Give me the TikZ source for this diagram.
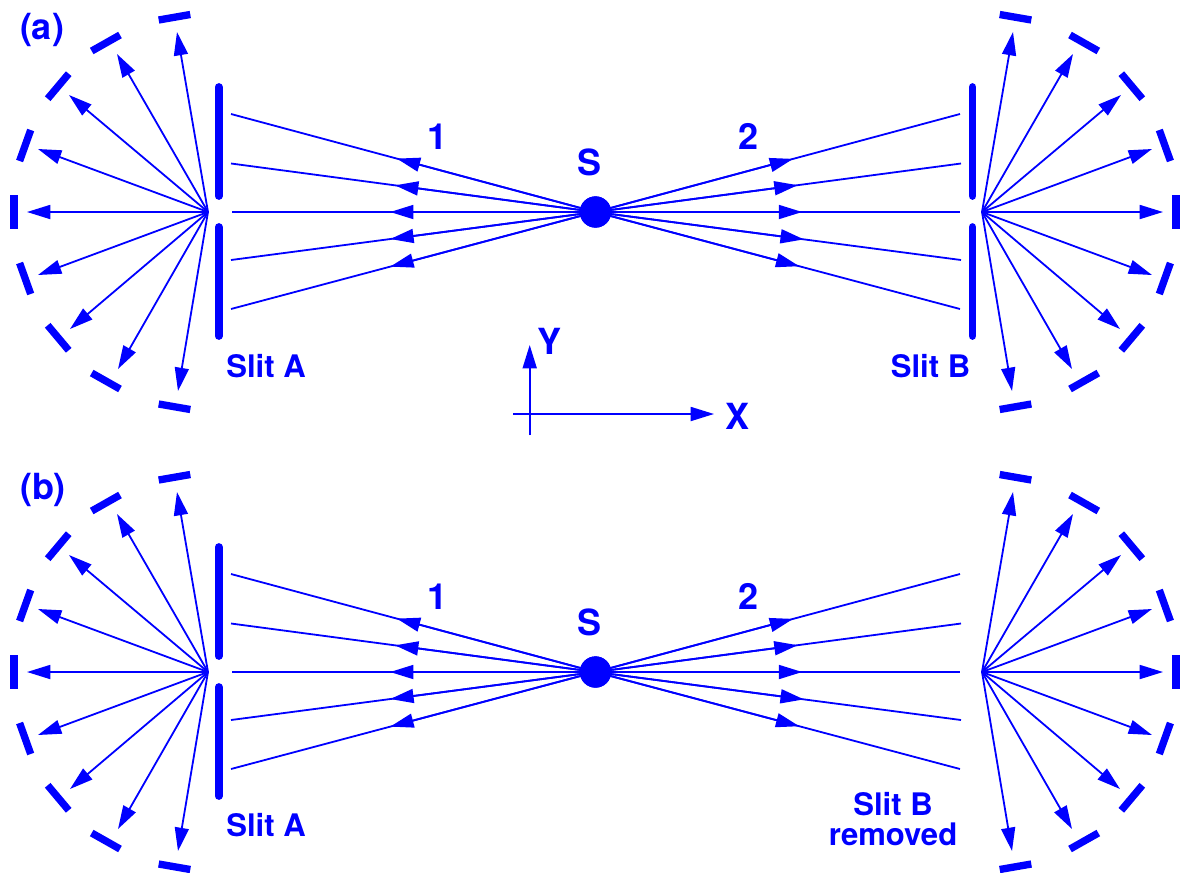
\documentclass[tikz,border=0pt]{standalone}
\usepackage{fontspec}
\setmainfont{TeX Gyre Heros}
\usetikzlibrary{arrows.meta,calc}
\definecolor{rayblue}{RGB}{0,0,255}
\tikzset{
  x=0.75pt,y=-0.75pt,
  ray/.style={draw=rayblue,fill=rayblue,line width=1.35pt,-{Triangle[length=17.5pt,width=10.5pt]}},
  plainray/.style={draw=rayblue,line width=1.35pt},
  slitbar/.style={draw=rayblue,line width=5.8pt,line cap=round},
  detector/.style={draw=rayblue,line width=5.5pt},
  source/.style={circle,fill=rayblue,inner sep=0pt,minimum size=23.5pt},
  biglabel/.style={text=rayblue,font=\bfseries\fontsize{27}{29}\selectfont,anchor=base,inner sep=0pt},
  sliplabel/.style={text=rayblue,font=\bfseries\fontsize{23.3}{23.3}\selectfont,anchor=base,inner sep=0pt},
}
\newcommand{\fanpanel}{%
  \coordinate (FL) at (208,212);
  \coordinate (FR) at (982,212);
  \node[source] (S) at (595.5,212) {};
  % beams from the source to the slit planes
  \foreach \i/\ex/\ey/\t in {1/231/114/.545,2/231/163.5/.55,3/232/212/.565,4/231/260/.563,5/231/309/.563}{
    \coordinate (E\i) at (\ex,\ey);
    \coordinate (M\i) at ($(S)!\t!(E\i)$);
    \draw[plainray] (S.center) -- (E\i);
    \draw[ray] (S.center) -- (M\i);
  }
  \foreach \i/\ex/\ey/\t in {1/960/114/.542,2/961/163.5/.553,3/960/212/.567,4/961/260/.57,5/960/309/.559}{
    \coordinate (R\i) at (\ex,\ey);
    \coordinate (N\i) at ($(S)!\t!(R\i)$);
    \draw[plainray] (S.center) -- (R\i);
    \draw[ray] (S.center) -- (N\i);
  }
  \node[source] at (S) {};
  % fans behind the slits
  \foreach \i/\tx/\ty in {1/177/32,2/117/54,3/69/95,4/38/149,5/27/212,6/38/275,7/70/329,8/118/369,9/178/391}{
    \coordinate (TL\i) at (\tx,\ty);
    \coordinate (TR\i) at (1190-\tx,\ty);
    \draw[ray] (FL) -- (TL\i);
    \draw[ray] (FR) -- (TR\i);
  }
  % detector segments
  \foreach \i/\ax/\ay/\bx/\by in {1/158.7/20/190.3/14.5,2/91.7/51/120/35,3/47.7/98.7/68.7/73.7,4/19.6/161/30.7/130,5/14/196/14/229}{
    \draw[detector] (\ax,\ay) -- (\bx,\by);
    \draw[detector] (1190-\ax,\ay) -- (1190-\bx,\by);
    \draw[detector] (\ax,424-\ay) -- (\bx,424-\by);
    \draw[detector] (1190-\ax,424-\ay) -- (1190-\bx,424-\by);
  }
  % slit A
  \draw[slitbar] (218.7,87) -- (218.7,196);
  \draw[slitbar] (218.7,227) -- (218.7,336);
}
\begin{document}
\begin{tikzpicture}
\path[use as bounding box] (0,0) rectangle (1180,872);
\begin{scope}[name prefix=a-]
  \fanpanel
  \draw[slitbar] (972.5,87) -- (972.5,196);
  \draw[slitbar] (972.5,227) -- (972.5,336);
\end{scope}
\begin{scope}[shift={(0,460)},name prefix=b-]
  \fanpanel
\end{scope}
% axes
\coordinate (xs) at (513,414);
\coordinate (xe) at (714,414);
\coordinate (ys) at (529.7,435);
\coordinate (ye) at (529.7,345);
\draw[ray] (xs) -- (xe);
\draw[ray] (ys) -- (ye);
% labels
\node[biglabel] (lx) at (737,429) {X};
\node[biglabel] (ly) at (549,354) {Y};
\node[biglabel] (la) at (42,39) {(a)};
\node[biglabel] (lb) at (43,499) {(b)};
\node[biglabel] (l1a) at (438,149) {1};
\node[biglabel] (l2a) at (748.5,149) {2};
\node[biglabel] (lsa) at (589,175.5) {S};
\node[biglabel] (l1b) at (438,609) {1};
\node[biglabel] (l2b) at (748.5,609) {2};
\node[biglabel] (lsb) at (589,635.5) {S};
\node[sliplabel] (sa) at (266,377) {Slit A};
\node[sliplabel] (sb) at (930.5,377) {Slit B};
\node[sliplabel] (sa2) at (266,836) {Slit A};
\node[sliplabel] (sb2) at (893,815) {Slit B};
\node[sliplabel] (rm) at (893,845) {removed};
\end{tikzpicture}
\end{document}
